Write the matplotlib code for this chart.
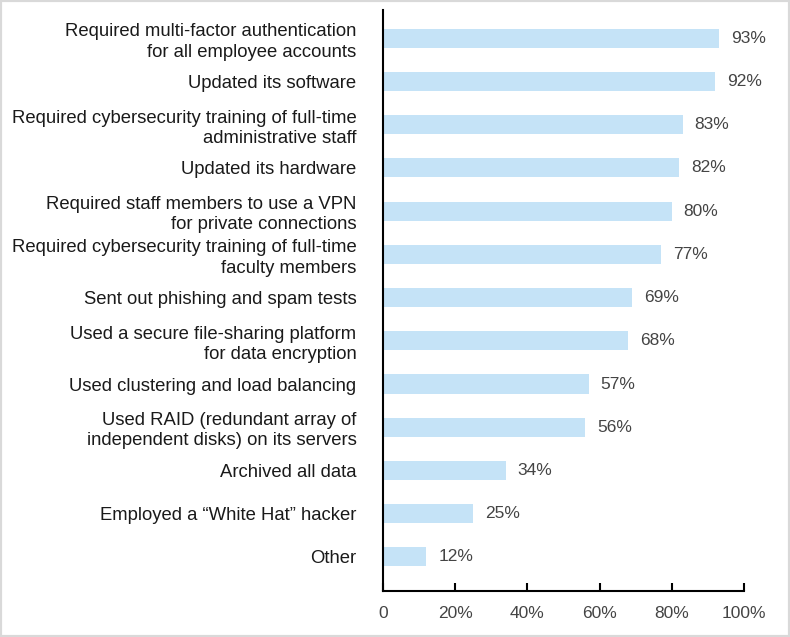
import matplotlib.pyplot as plt
from matplotlib.patches import Rectangle

labels = [
    "Required multi-factor authentication\nfor all employee accounts",
    "Updated its software",
    "Required cybersecurity training of full-time\nadministrative staff",
    "Updated its hardware",
    "Required staff members to use a VPN\nfor private connections",
    "Required cybersecurity training of full-time\nfaculty members",
    "Sent out phishing and spam tests",
    "Used a secure file-sharing platform\nfor data encryption",
    "Used clustering and load balancing",
    "Used RAID (redundant array of\nindependent disks) on its servers",
    "Archived all data",
    "Employed a \u201cWhite Hat\u201d hacker",
    "Other",
]
values = [93, 92, 83, 82, 80, 77, 69, 68, 57, 56, 34, 25, 12]
xticks = [0, 20, 40, 60, 80, 100]
xtick_labels = ["0", "20%", "40%", "60%", "80%", "100%"]

plt.rcParams["font.family"] = ["Liberation Sans", "DejaVu Sans"]

fig = plt.figure(figsize=(7.9, 6.37), dpi=100)
ax = fig.add_axes([0.4848, 0.0722, 0.4570, 0.9118])

pos = list(range(len(values)))
ax.barh(pos, values, height=0.44, color="#c5e3f7")

for p, v in zip(pos, values):
    ax.text(v + 3.3, p, f"{v}%", va="center", ha="left", fontsize=12.5, color="#444444")

ax.set_xlim(0, 100)
ax.set_ylim(12.79, -0.65)
ax.set_yticks(pos)
ax.set_yticklabels(labels, fontsize=13.3, color="#1a1a1a", linespacing=1.25)
ax.tick_params(axis="y", length=0, pad=19)
ax.set_xticks(xticks)
ax.set_xticklabels(xtick_labels, fontsize=12.5, color="#444444")
ax.tick_params(axis="x", direction="in", length=6, width=1.5, pad=11)

ax.spines["top"].set_visible(False)
ax.spines["right"].set_visible(False)
ax.spines["left"].set_linewidth(1.5)
ax.spines["bottom"].set_linewidth(1.5)

# grey frame round the picture
fig.patches.append(Rectangle((0, 0), 1, 1, transform=fig.transFigure,
                             fill=False, edgecolor="#d9d9d9", linewidth=3))

plt.savefig("out.png", dpi=100)
